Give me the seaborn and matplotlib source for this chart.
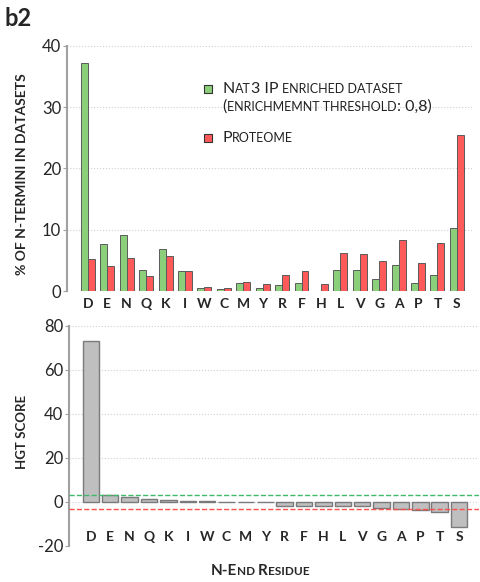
import pandas as pd
import matplotlib
matplotlib.use("Agg")
import matplotlib.pyplot as plt
import seaborn as sns
from matplotlib.offsetbox import TextArea, HPacker, AnnotationBbox

sns.set_style("white")
plt.rcParams['font.family'] = ['Lato', 'DejaVu Sans']

# Dados
residuos = ['D', 'E', 'N', 'Q', 'K', 'I', 'W', 'C', 'M', 'Y',
            'R', 'F', 'H', 'L', 'V', 'G', 'A', 'P', 'T', 'S']
nat3_ip = [37.3, 7.7, 9.1, 3.5, 6.8, 3.2, 0.55, 0.3, 1.3, 0.55,
           0.9, 1.3, 0.05, 3.5, 3.5, 1.9, 4.2, 1.3, 2.6, 10.3]
proteoma = [5.2, 4.1, 5.4, 2.5, 5.7, 3.2, 0.65, 0.55, 1.4, 1.1,
            2.6, 3.2, 1.2, 6.2, 6.1, 4.9, 8.4, 4.5, 7.8, 25.4]
hgt_score = [73.1, 3.0, 2.4, 1.1, 0.9, 0.6, 0.3, -0.15, -0.15, -0.15,
             -1.7, -1.7, -1.7, -1.7, -1.7, -2.6, -3.0, -3.5, -4.4, -11.2]
limiar_sup = 3
limiar_inf = -3

cor_verde = '#8ccf7a'
cor_vermelho = '#ff5a5a'
cor_cinza = '#bfbfbf'
cor_borda = '#5a5a5a'

df = pd.DataFrame({'residuo': residuos * 2,
                   'pct': nat3_ip + proteoma,
                   'dataset': ['nat3'] * len(residuos) + ['proteoma'] * len(residuos)})


def versalete(texto, grande, pequeno, **kw):
    # imita small caps: minúsculas viram maiúsculas menores
    partes = []
    for ch in texto:
        tam = pequeno if ch.islower() else grande
        if ch == ' ' and partes:
            tam = partes[-1][1]
        if partes and partes[-1][1] == tam:
            partes[-1][0] += ch.upper()
        else:
            partes.append([ch.upper(), tam])
    areas = [TextArea(p, textprops=dict(fontsize=t, **kw)) for p, t in partes]
    return HPacker(children=areas, align='baseline', pad=0, sep=0)


def coloca(ax, caixa, xy, coords, alinhamento):
    ab = AnnotationBbox(caixa, xy, xycoords=coords, box_alignment=alinhamento,
                        frameon=False, pad=0)
    ax.add_artist(ab)


fig = plt.figure(figsize=(4.81, 5.82), dpi=100)
ax1 = fig.add_axes([0.139, 0.5, 0.844, 0.421])
ax2 = fig.add_axes([0.143, 0.062, 0.853, 0.378])

# Gráfico de cima — % de N-termini
sns.barplot(data=df, x='residuo', y='pct', hue='dataset', palette=[cor_verde, cor_vermelho],
            width=0.72, saturation=1, edgecolor=cor_borda, linewidth=0.7, legend=False, ax=ax1)
ax1.set_ylim(0, 40)
ax1.set_xlim(-1.08, 19.82)
ax1.set_yticks([0, 10, 20, 30, 40])
ax1.set_xlabel('')
ax1.set_ylabel('')

# Gráfico de baixo — HGT score
sns.barplot(x=residuos, y=hgt_score, color=cor_cinza, width=0.85, saturation=1,
            edgecolor='#7a7a7a', linewidth=1, ax=ax2)
ax2.axhline(limiar_sup, color='#3dbb6a', ls='--', lw=1, zorder=5)
ax2.axhline(limiar_inf, color='#ff4f4f', ls='--', lw=1, zorder=5)
ax2.set_ylim(-20, 80)
ax2.set_xlim(-1.14, 20.03)
ax2.set_yticks([-20, 0, 20, 40, 60, 80])
ax2.set_yticklabels(['-20', '0', '20', '40', '60', '80'])

for ax in (ax1, ax2):
    for s in ['top', 'right', 'bottom']:
        ax.spines[s].set_visible(False)
    ax.spines['left'].set_color('#a0a0a0')
    ax.spines['left'].set_linewidth(1.5)
    ax.set_axisbelow(True)
    ax.yaxis.grid(True, ls=':', color='#d0d0d0', lw=0.8)
    ax.tick_params(axis='y', left=True, length=3, color='#a0a0a0', labelsize=12, pad=1)
    for lbl in ax.get_xticklabels():
        lbl.set_fontweight('bold')
        lbl.set_fontsize(10)

ax1.tick_params(axis='x', length=0, pad=5)
ax2.tick_params(axis='x', length=0, pad=-11)

# Legenda manual
ax1.scatter([0.347], [0.824], marker='s', s=30, color=cor_verde, edgecolor='#333333',
            linewidth=0.8, transform=ax1.transAxes, clip_on=False)
coloca(ax1, versalete('Nat3 IP enriched dataset', 11.5, 9, color='#222222'),
       (0.384, 0.824), 'axes fraction', (0, 0.5))
coloca(ax1, versalete('(enrichmemnt threshold: 0,8)', 11.5, 9, color='#222222'),
       (0.384, 0.752), 'axes fraction', (0, 0.5))
ax1.scatter([0.347], [0.624], marker='s', s=30, color=cor_vermelho, edgecolor='#333333',
            linewidth=0.8, transform=ax1.transAxes, clip_on=False)
coloca(ax1, versalete('Proteome', 11.5, 9, color='#222222'),
       (0.384, 0.624), 'axes fraction', (0, 0.5))

# Títulos e rótulos
fig.text(0.01, 0.968, 'b2', fontsize=17, fontweight='bold', va='center', ha='left')
fig.text(0.046, 0.701, '% OF N-TERMINI IN DATASETS', rotation=90, fontsize=10,
         fontweight='bold', va='center', ha='center')
fig.text(0.046, 0.258, 'HGT SCORE', rotation=90, fontsize=9.5,
         fontweight='bold', va='center', ha='center')
coloca(ax2, versalete('N-End Residue', 11, 8.5, fontweight='bold'),
       (0.541, 0.019), 'figure fraction', (0.5, 0.5))

plt.savefig('out.png', dpi=100)
